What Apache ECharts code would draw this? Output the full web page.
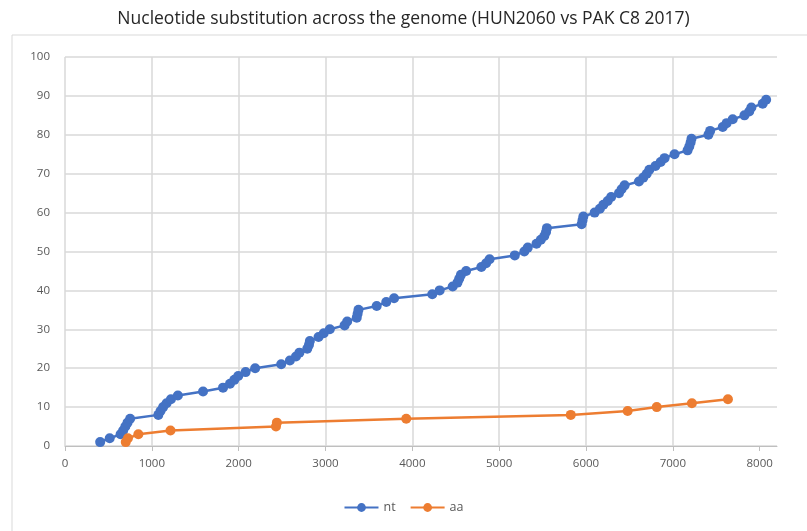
<!DOCTYPE html>
<html>
<head>
<meta charset="utf-8">
<script src="https://cdn.jsdelivr.net/npm/echarts@6/dist/echarts.min.js"></script>
<style>
  html, body { margin: 0; padding: 0; background: #fff; }
  #chart { width: 807px; height: 531px; }
</style>
</head>
<body>
<div id="chart"></div>
<script>
  // genome position of each substitution (cumulative count 1..n)
  var ntPos = [405, 515, 640, 670, 695, 720, 750, 1075, 1100, 1130,
    1170, 1220, 1300, 1590, 1820, 1900, 1950, 1995, 2080, 2190,
    2490, 2590, 2660, 2700, 2790, 2810, 2820, 2920, 2980, 3050,
    3220, 3250, 3360, 3370, 3380, 3590, 3700, 3790, 4230, 4315,
    4465, 4520, 4540, 4560, 4620, 4795, 4850, 4890, 5180, 5290,
    5330, 5430, 5480, 5520, 5540, 5550, 5950, 5960, 5970, 6100,
    6160, 6200, 6250, 6290, 6380, 6410, 6445, 6610, 6660, 6700,
    6730, 6800, 6860, 6905, 7020, 7170, 7190, 7205, 7215, 7410,
    7430, 7575, 7620, 7690, 7825, 7880, 7905, 8035, 8075];
  var ntCount = [];
  for (var i = 0; i < ntPos.length; i++) ntCount.push(i + 1);

  var aaPos = [700, 725, 845, 1215, 2430, 2440, 3930, 5825, 6480, 6815, 7220, 7635];
  var aaCount = [1, 2, 3, 4, 5, 6, 7, 8, 9, 10, 11, 12];

  var xTicks = [0, 1000, 2000, 3000, 4000, 5000, 6000, 7000, 8000];

  function pairs(xs, ys) {
    return xs.map(function (x, k) { return [x, ys[k]]; });
  }

  var chart = echarts.init(document.getElementById('chart'));
  var font = '"Open Sans", Lato, sans-serif';

  chart.setOption({
    animation: false,
    textStyle: { fontFamily: font },
    title: {
      text: 'Nucleotide substitution across the genome (HUN2060 vs PAK C8 2017)',
      left: 'center',
      top: 5,
      textStyle: { fontSize: 17.5, fontWeight: 'normal', color: '#262626', fontFamily: font }
    },
    graphic: [{
      type: 'rect',
      shape: { x: 12, y: 35, width: 810, height: 520 },
      style: { fill: 'none', stroke: '#d9d9d9', lineWidth: 1 },
      silent: true
    }],
    grid: { left: 65, right: 30, top: 57, bottom: 85 },
    legend: {
      bottom: 12,
      left: 'center',
      itemWidth: 34,
      itemHeight: 11,
      itemGap: 14,
      textStyle: { fontSize: 12.5, color: '#595959' },
      data: ['nt', 'aa']
    },
    xAxis: {
      type: 'value',
      min: 0,
      max: 8200,
      interval: 1000,
      axisLine: { show: true, onZero: false, lineStyle: { color: '#bfbfbf', width: 1 } },
      axisTick: { show: true, length: 5, lineStyle: { color: '#bfbfbf' }, customValues: xTicks },
      axisLabel: {
        color: '#595959', fontSize: 11.5, margin: 12, customValues: xTicks,
        formatter: function (v) { return String(v); }
      },
      splitLine: { show: true, showMaxLine: false, lineStyle: { color: '#d9d9d9', width: 1.5 } }
    },
    yAxis: {
      type: 'value',
      min: 0,
      max: 100,
      interval: 10,
      axisLine: { show: false },
      axisTick: { show: false },
      axisLabel: { color: '#595959', fontSize: 11.5, margin: 15 },
      splitLine: { lineStyle: { color: '#d9d9d9', width: 1.5 } }
    },
    series: [
      {
        name: 'nt',
        type: 'line',
        data: pairs(ntPos, ntCount),
        symbol: 'circle',
        symbolSize: 10,
        color: '#4472c4',
        lineStyle: { width: 2.5, color: '#4472c4' },
        itemStyle: { color: '#4472c4' }
      },
      {
        name: 'aa',
        type: 'line',
        data: pairs(aaPos, aaCount),
        symbol: 'circle',
        symbolSize: 10,
        color: '#ed7d31',
        lineStyle: { width: 2.5, color: '#ed7d31' },
        itemStyle: { color: '#ed7d31' }
      }
    ]
  });
</script>
</body>
</html>
